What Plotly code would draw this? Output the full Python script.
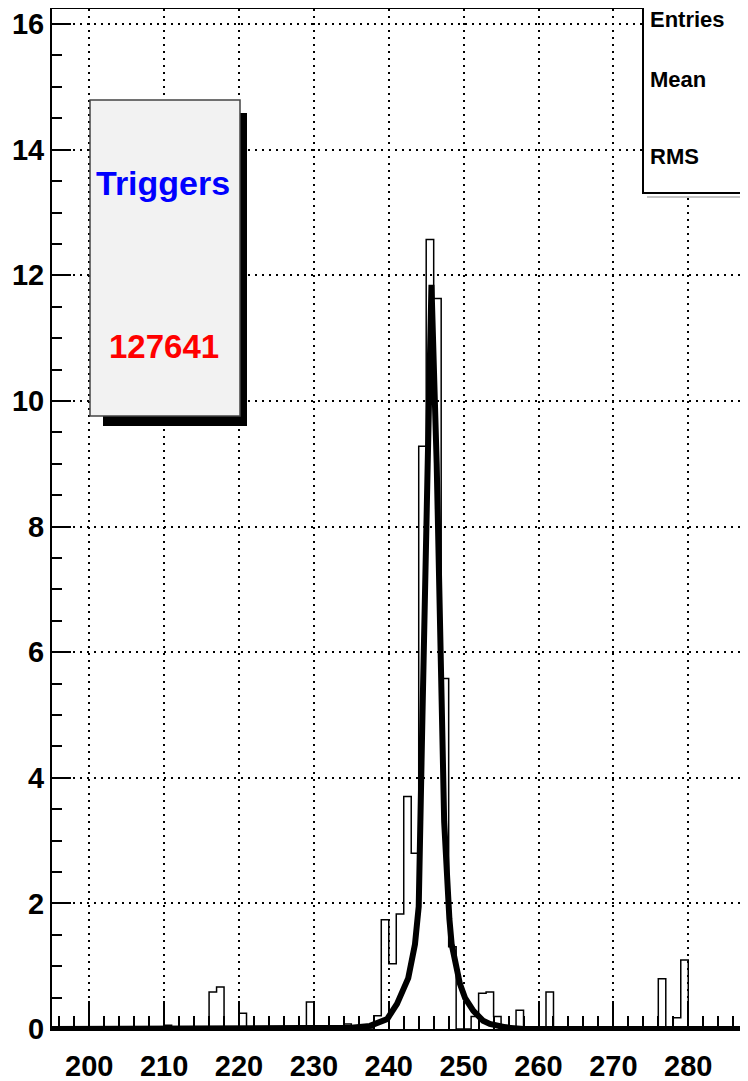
import plotly.graph_objects as go

# histogram: low edge of each non-empty bin (bin width 1) and its content
bin_lo = [210, 216, 217, 220, 229, 232, 234, 238, 239, 240, 241, 242, 243, 244,
          245, 246, 247, 248, 251, 252, 253, 254, 255, 257, 261, 276, 278, 279]
bin_val = [0.06, 0.59, 0.67, 0.25, 0.43, 0.03, 0.08, 0.21, 1.74, 1.04, 1.83, 3.7,
           2.8, 9.28, 12.57, 11.63, 5.58, 1.31, 0.2, 0.57, 0.59, 0.2, 0.06, 0.3,
           0.59, 0.8, 0.18, 1.1]
x_min, x_max = 195, 288

# fit curve
fit_x = [195, 232, 235, 237.5, 239.8, 241.1, 242.6, 243.5, 244.0, 244.5, 245.1,
         245.7, 246.4, 246.9, 247.4, 248.1, 248.4, 249.5, 250.2, 251.3, 252.6,
         253.5, 255.8, 258, 288]
fit_y = [0, 0, 0.02, 0.05, 0.16, 0.4, 0.81, 1.35, 1.95, 5.0, 8.9, 11.85, 9.0,
         5.5, 3.3, 1.75, 1.35, 0.72, 0.49, 0.29, 0.13, 0.08, 0.02, 0, 0]

pave_title = "Triggers"
pave_count = "127641"
stat_labels = ["Entries", "Mean", "RMS"]

# build the step outline of the histogram
content = dict(zip(bin_lo, bin_val))
edges = list(range(x_min, x_max + 1))
step_y = [content.get(e, 0) for e in edges]

# the page body has an 8px margin, so the figure is shrunk to fit the window
OFF = 8
W, H = 740, 1073
L, R, T, B = 44, 0, 1, 52
PW, PH = W - L - R, H - T - B


def px(x):
    # page pixel -> paper coordinate
    return (x - OFF - L) / PW


def py(y):
    return (H - B - (y - OFF)) / PH


fig = go.Figure()
fig.add_trace(go.Scatter(x=edges, y=step_y, mode="lines", line_shape="hv",
                         line=dict(color="black", width=1.5), hoverinfo="skip"))
fig.add_trace(go.Scatter(x=fit_x, y=fit_y, mode="lines",
                         line=dict(color="black", width=6), hoverinfo="skip"))

font = "Liberation Sans, Arial, sans-serif"
fig.update_xaxes(range=[195.02, 287.98], automargin=False, showline=True,
                 linecolor="black", linewidth=2, mirror=True, ticks="inside",
                 ticklen=28, tickwidth=2, tickcolor="black", tick0=200, dtick=10,
                 showgrid=True, gridcolor="black", gridwidth=1.5,
                 griddash="2px,5px", zeroline=False, ticklabelstandoff=10,
                 tickfont=dict(family=font, size=29, color="black", weight="bold"),
                 minor=dict(ticks="inside", ticklen=13, tickwidth=2,
                            tickcolor="black", tick0=200, dtick=2, showgrid=False))
fig.update_yaxes(range=[0, 16.24], automargin=False, showline=True,
                 linecolor="black", linewidth=2, mirror=False, ticks="inside",
                 ticklen=19, tickwidth=2, tickcolor="black", tick0=0, dtick=2,
                 showgrid=True, gridcolor="black", gridwidth=1.5,
                 griddash="2px,5px", zeroline=False, ticklabelstandoff=0,
                 tickfont=dict(family=font, size=29, color="black", weight="bold"),
                 minor=dict(ticks="inside", ticklen=10, tickwidth=2,
                            tickcolor="black", tick0=0, dtick=0.5, showgrid=False))

shapes = [
    # pave shadow and pave
    dict(type="rect", xref="paper", yref="paper", x0=px(103), x1=px(247),
         y0=py(426), y1=py(113), fillcolor="black", line=dict(width=0),
         layer="above"),
    dict(type="rect", xref="paper", yref="paper", x0=px(90), x1=px(240),
         y0=py(416), y1=py(100), fillcolor="#f2f2f2",
         line=dict(color="#444", width=1.5), layer="above"),
    # stats box
    dict(type="line", xref="paper", yref="paper", x0=px(647), x1=px(760),
         y0=py(197), y1=py(197), line=dict(color="#888", width=1),
         layer="above"),
    dict(type="rect", xref="paper", yref="paper", x0=px(643), x1=px(770),
         y0=py(193), y1=py(-20), fillcolor="white",
         line=dict(color="black", width=2), layer="above"),
]

annotations = [
    dict(text=pave_title, x=px(163), y=py(183), xref="paper", yref="paper",
         showarrow=False, xanchor="center", yanchor="middle",
         font=dict(family=font, size=34, color="#0000ff", weight="bold")),
    dict(text=pave_count, x=px(164), y=py(346), xref="paper", yref="paper",
         showarrow=False, xanchor="center", yanchor="middle",
         font=dict(family=font, size=33, color="#ff0000", weight="bold")),
]
# "Entries" sits at the very top edge of the window in the original
for lab, yy in zip(stat_labels, [20, 80, 156]):
    annotations.append(dict(text=lab, x=px(648), y=py(yy), xref="paper",
                            yref="paper", showarrow=False, xanchor="left",
                            yanchor="middle",
                            font=dict(family=font, size=22, color="black",
                                      weight="bold")))

fig.update_layout(width=W, height=H, margin=dict(l=L, r=R, t=T, b=B),
                  paper_bgcolor="white", plot_bgcolor="white",
                  showlegend=False, shapes=shapes, annotations=annotations)

fig.write_html("out.html")
